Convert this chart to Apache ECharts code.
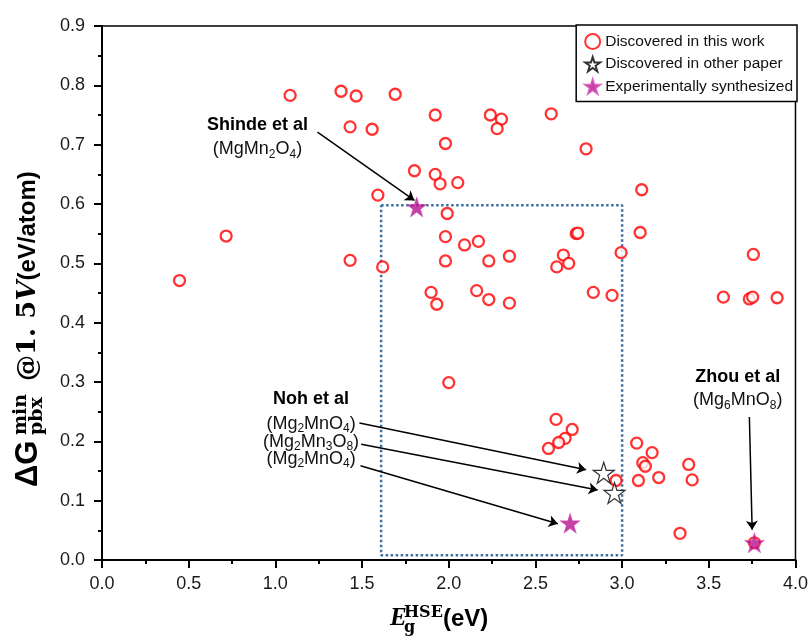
<!DOCTYPE html>
<html>
<head>
<meta charset="utf-8">
<script src="https://cdn.jsdelivr.net/npm/echarts@6/dist/echarts.min.js"></script>
<style>
html,body{margin:0;padding:0;background:#fff;}
#chart{width:811px;height:636px;}
</style>
</head>
<body>
<div id="chart"></div>
<script>
// Discovered in this work
var workX = [0.447,0.716,1.085,1.379,1.466,1.691,1.431,1.558,1.802,1.591,
             1.431,1.619,1.922,2.240,2.304,2.279,2.591,1.981,2.792,1.922,
             1.950,2.052,3.113,1.991,1.981,2.091,2.171,2.735,2.744,3.104,
             2.994,3.757,1.981,2.231,2.350,2.661,2.623,2.692,1.898,1.931,
             2.161,2.231,2.350,2.834,2.942,3.584,3.734,3.753,3.894,2.000,
             2.619,2.712,2.671,2.634,2.575,2.965,3.084,3.173,3.119,3.134,
             3.384,3.094,3.211,3.404,3.334,3.763];
var workY = [0.471,0.546,0.783,0.790,0.782,0.785,0.730,0.726,0.656,0.615,
             0.505,0.494,0.750,0.750,0.743,0.727,0.752,0.702,0.693,0.650,
             0.634,0.636,0.624,0.584,0.545,0.531,0.537,0.550,0.551,0.552,
             0.518,0.515,0.504,0.504,0.512,0.514,0.494,0.500,0.451,0.431,
             0.454,0.439,0.433,0.451,0.446,0.443,0.440,0.443,0.442,0.299,
             0.237,0.220,0.205,0.198,0.188,0.134,0.197,0.181,0.164,0.158,
             0.161,0.134,0.139,0.135,0.045,0.029];
// Discovered in other paper
var otherX = [2.894, 2.956];
var otherY = [0.147, 0.113];
// Experimentally synthesized
var synthX = [1.815, 2.700, 3.763];
var synthY = [0.595, 0.062, 0.029];

// dotted window
var boxX = [1.61, 3.0, 3.0, 1.61, 1.61];
var boxY = [0.598, 0.598, 0.008, 0.008, 0.598];

var xTicks = [0, 4, 0.5];
var yTicks = [0, 0.9, 0.1];

// annotations (data units)
var arrowLines = [
  [1.243, 0.721, 1.802, 0.606],
  [1.485, 0.231, 2.792, 0.152],
  [1.495, 0.195, 2.859, 0.118],
  [1.491, 0.159, 2.629, 0.061],
  [3.734, 0.241, 3.750, 0.051]
];
var noteTitles = [
  ['Shinde et al', 0.897, 0.733],
  ['Noh et al', 1.206, 0.271],
  ['Zhou et al', 3.667, 0.308]
];
var noteFormulas = [
  ['(MgMn{s|2}O{s|4})', 0.897, 0.692],
  ['(Mg{s|2}MnO{s|4})', 1.206, 0.230],
  ['(Mg{s|2}Mn{s|3}O{s|8})', 1.206, 0.199],
  ['(Mg{s|2}MnO{s|4})', 1.206, 0.170],
  ['(Mg{s|6}MnO{s|8})', 3.667, 0.269]
];

var starPath = 'path://M50,0 L61.2,34.5 L97.6,34.5 L68.2,55.9 L79.4,90.5 L50,69.1 L20.6,90.5 L31.8,55.9 L2.4,34.5 L38.8,34.5 Z';
var sans = '"Liberation Sans", Arial, sans-serif';

function pairs(xs, ys) {
  return xs.map(function (x, i) { return [x, ys[i]]; });
}

var chart = echarts.init(document.getElementById('chart'));
var option = {
  animation: false,
  backgroundColor: '#fff',
  grid: {
    left: 102, right: 15, top: 26, bottom: 76,
    show: true, borderColor: '#000', borderWidth: 1.5
  },
  legend: {
    orient: 'vertical',
    top: 25, right: 14,
    padding: [8, 4, 7, 8],
    itemGap: 6,
    itemWidth: 15, itemHeight: 15,
    itemTextGap: 7,
    backgroundColor: '#fff',
    borderColor: '#000', borderWidth: 1.5,
    textStyle: { fontFamily: sans, fontSize: 15.5, color: '#111' },
    data: ['Discovered in this work', 'Discovered in other paper', 'Experimentally synthesized']
  },
  xAxis: {
    type: 'value', min: xTicks[0], max: xTicks[1], interval: xTicks[2],
    axisLine: { lineStyle: { color: '#000', width: 2 } },
    axisTick: { length: 8, lineStyle: { color: '#000', width: 2 } },
    minorTick: { show: true, splitNumber: 2, length: 4, lineStyle: { color: '#000', width: 2 } },
    splitLine: { show: false },
    axisLabel: {
      margin: 15, fontFamily: sans, fontSize: 18, color: '#1a1a1a',
      formatter: function (v) { return v.toFixed(1); }
    }
  },
  yAxis: {
    type: 'value', min: yTicks[0], max: yTicks[1], interval: yTicks[2],
    axisLine: { lineStyle: { color: '#000', width: 2 } },
    axisTick: { length: 8, lineStyle: { color: '#000', width: 2 } },
    minorTick: { show: true, splitNumber: 2, length: 4, lineStyle: { color: '#000', width: 2 } },
    splitLine: { show: false },
    axisLabel: {
      margin: 17, fontFamily: sans, fontSize: 18, color: '#1a1a1a',
      formatter: function (v) { return v.toFixed(1); }
    }
  },
  series: [
    {
      name: 'box', type: 'line', data: pairs(boxX, boxY),
      symbol: 'none', silent: true, z: 1,
      lineStyle: { color: '#3e6f9f', width: 2.5, type: [2.5, 2.5] },
      markLine: {
        silent: true, animation: false,
        symbol: ['none', 'arrow'], symbolSize: 9,
        label: { show: false },
        lineStyle: { color: '#000', width: 1.5, type: 'solid' },
        emphasis: { disabled: true },
        data: arrowLines.map(function (a) {
          return [{ coord: [a[0], a[1]] }, { coord: [a[2], a[3]] }];
        })
      }
    },
    {
      name: 'Discovered in this work', type: 'scatter', z: 3,
      data: pairs(workX, workY),
      symbol: 'circle', symbolSize: 11,
      itemStyle: { color: '#fff', borderColor: '#ff0000', borderWidth: 2.3 }
    },
    {
      name: 'Discovered in other paper', type: 'scatter', z: 4,
      data: pairs(otherX, otherY),
      symbol: starPath, symbolSize: 21,
      itemStyle: { color: '#fff', borderColor: '#000', borderWidth: 1.2 }
    },
    {
      name: 'Experimentally synthesized', type: 'scatter', z: 5,
      data: pairs(synthX, synthY),
      symbol: starPath, symbolSize: 20,
      itemStyle: { color: '#b8118f', borderColor: '#d24cb4', borderWidth: 0.6 }
    }
  ]
};
chart.setOption(option);

// text annotations and axis titles
var g = [];
noteTitles.forEach(function (n) {
  var p = chart.convertToPixel({ gridIndex: 0 }, [n[1], n[2]]);
  g.push({
    type: 'text', x: p[0], y: p[1], z: 10,
    style: { text: n[0], font: 'bold 18px ' + sans, fill: '#000', align: 'center', verticalAlign: 'middle' }
  });
});
noteFormulas.forEach(function (n) {
  var p = chart.convertToPixel({ gridIndex: 0 }, [n[1], n[2]]);
  g.push({
    type: 'text', x: p[0], y: p[1], z: 10,
    style: {
      text: n[0], fontFamily: sans, fontSize: 18, lineHeight: 22, fill: '#111',
      align: 'center', verticalAlign: 'middle',
      rich: { s: { fontFamily: sans, fontSize: 12, lineHeight: 12, verticalAlign: 'bottom', fill: '#111' } }
    }
  });
});

// y axis title
g.push({
  type: 'group', x: 28, y: 487, rotation: Math.PI / 2,
  children: [
    { type: 'text', x: 0, y: 0, style: { text: 'ΔG', font: 'bold 31px ' + sans, fill: '#000', align: 'left', verticalAlign: 'middle' } },
    { type: 'text', x: 52, y: -7, style: { text: 'min', font: 'bold 19px "DejaVu Serif", serif', fill: '#000', align: 'left', verticalAlign: 'middle' } },
    { type: 'text', x: 52, y: 9, style: { text: 'pbx', font: 'bold 19px "DejaVu Serif", serif', fill: '#000', align: 'left', verticalAlign: 'middle' } },
    {
      type: 'text', x: 106, y: 0,
      style: {
        text: '{a|@1. 5}{b|V}{c|(eV/atom)}', align: 'left', verticalAlign: 'middle',
        rich: {
          a: { font: 'bold 26px "DejaVu Serif", serif', fill: '#000' },
          b: { font: 'italic bold 26px "DejaVu Serif", serif', fill: '#000' },
          c: { font: 'bold 24px ' + sans, fill: '#000' }
        }
      }
    }
  ]
});

// x axis title
g.push(
  { type: 'text', x: 390, y: 619, style: { text: 'E', font: 'italic bold 25px "Liberation Serif", serif', fill: '#000', align: 'left', verticalAlign: 'middle' } },
  { type: 'text', x: 404, y: 613, style: { text: 'HSE', font: 'bold 16px "DejaVu Serif", serif', fill: '#000', align: 'left', verticalAlign: 'middle' } },
  { type: 'text', x: 404, y: 628, style: { text: 'g', font: 'bold 16px "DejaVu Serif", serif', fill: '#000', align: 'left', verticalAlign: 'middle' } },
  { type: 'text', x: 443, y: 619, style: { text: '(eV)', font: 'bold 24px ' + sans, fill: '#000', align: 'left', verticalAlign: 'middle' } }
);

chart.setOption({ graphic: g });
</script>
</body>
</html>
